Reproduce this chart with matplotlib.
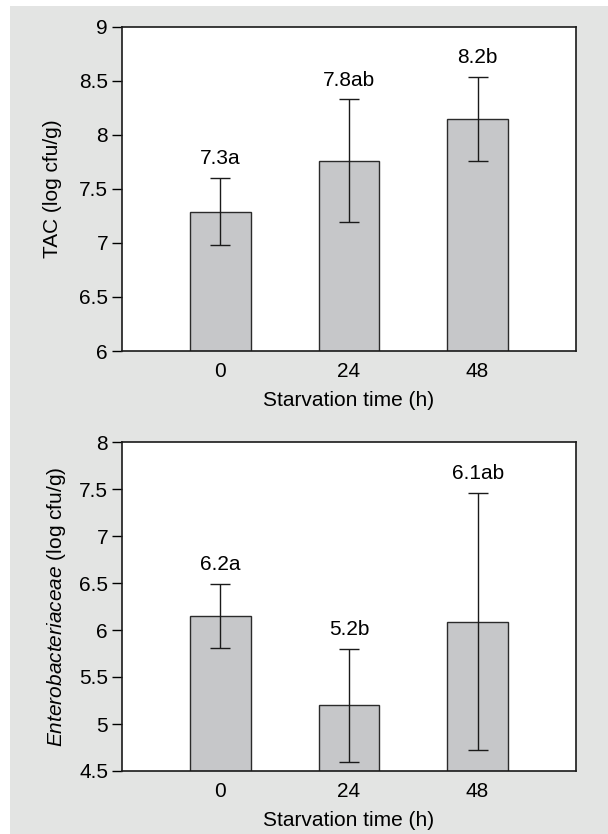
import matplotlib.pyplot as plt
from matplotlib.patches import Rectangle

# starvation time groups
groups = ['0', '24', '48']

# TAC (log cfu/g)
tac_mean = [7.29, 7.76, 8.15]
tac_err = [0.31, 0.57, 0.39]
tac_labels = ['7.3a', '7.8ab', '8.2b']

# Enterobacteriaceae (log cfu/g)
ent_mean = [6.15, 5.20, 6.09]
ent_err = [0.34, 0.60, 1.37]
ent_labels = ['6.2a', '5.2b', '6.1ab']

plt.rcParams['font.family'] = ['Liberation Sans', 'DejaVu Sans']
plt.rcParams['font.size'] = 15
plt.rcParams['mathtext.fontset'] = 'custom'
plt.rcParams['mathtext.rm'] = 'Liberation Sans'
plt.rcParams['mathtext.it'] = 'Liberation Sans:italic'

fig = plt.figure(figsize=(6.08, 8.34), dpi=100)
fig.patch.set_facecolor('white')
# gray panel behind everything
fig.patches.append(Rectangle((10 / 608, 0), 1, 1 - 6 / 834, transform=fig.transFigure,
                             facecolor='#e3e4e3', edgecolor='none', zorder=-10))

W, H = 608, 834


def make_ax(top, bottom):
    return fig.add_axes([122 / W, 1 - bottom / H, (576 - 122) / W, (bottom - top) / H])


def draw(ax, means, errs, labels, ylim, yticks, ylabel, ypad):
    x = range(len(groups))
    ax.bar(x, means, width=0.47, color='#c6c7c9', edgecolor='#2b2b2b', linewidth=1.0,
           yerr=errs, capsize=7, error_kw=dict(elinewidth=1.0, ecolor='#1a1a1a', capthick=1.0))
    for i in x:
        ax.annotate(labels[i], (i, means[i] + errs[i]), xytext=(0, 7), textcoords='offset points',
                    ha='center', va='bottom', fontsize=15)
    ax.set_xlim(-0.765, 2.765)
    ax.set_ylim(*ylim)
    ax.set_yticks(yticks)
    ax.set_yticklabels([('%g' % t) for t in yticks])
    ax.set_xticks(list(x))
    ax.set_xticklabels(groups)
    ax.tick_params(axis='x', length=0, pad=8, labelsize=15)
    ax.tick_params(axis='y', direction='out', length=7, width=1, pad=3, labelsize=15)
    for s in ax.spines.values():
        s.set_linewidth(1.2)
        s.set_color('#1a1a1a')
    ax.set_xlabel('Starvation time (h)', fontsize=15, labelpad=7)
    ax.set_ylabel(ylabel, fontsize=15, labelpad=ypad)


ax1 = make_ax(27, 351)
draw(ax1, tac_mean, tac_err, tac_labels, (6, 9), [6, 6.5, 7, 7.5, 8, 8.5, 9],
     'TAC (log cfu/g)', 12)

ax2 = make_ax(442, 771)
draw(ax2, ent_mean, ent_err, ent_labels, (4.5, 8), [4.5, 5, 5.5, 6, 6.5, 7, 7.5, 8],
     r'$\mathit{Enterobacteriaceae}$ (log cfu/g)', 8)

fig.savefig('out.png', dpi=100)
